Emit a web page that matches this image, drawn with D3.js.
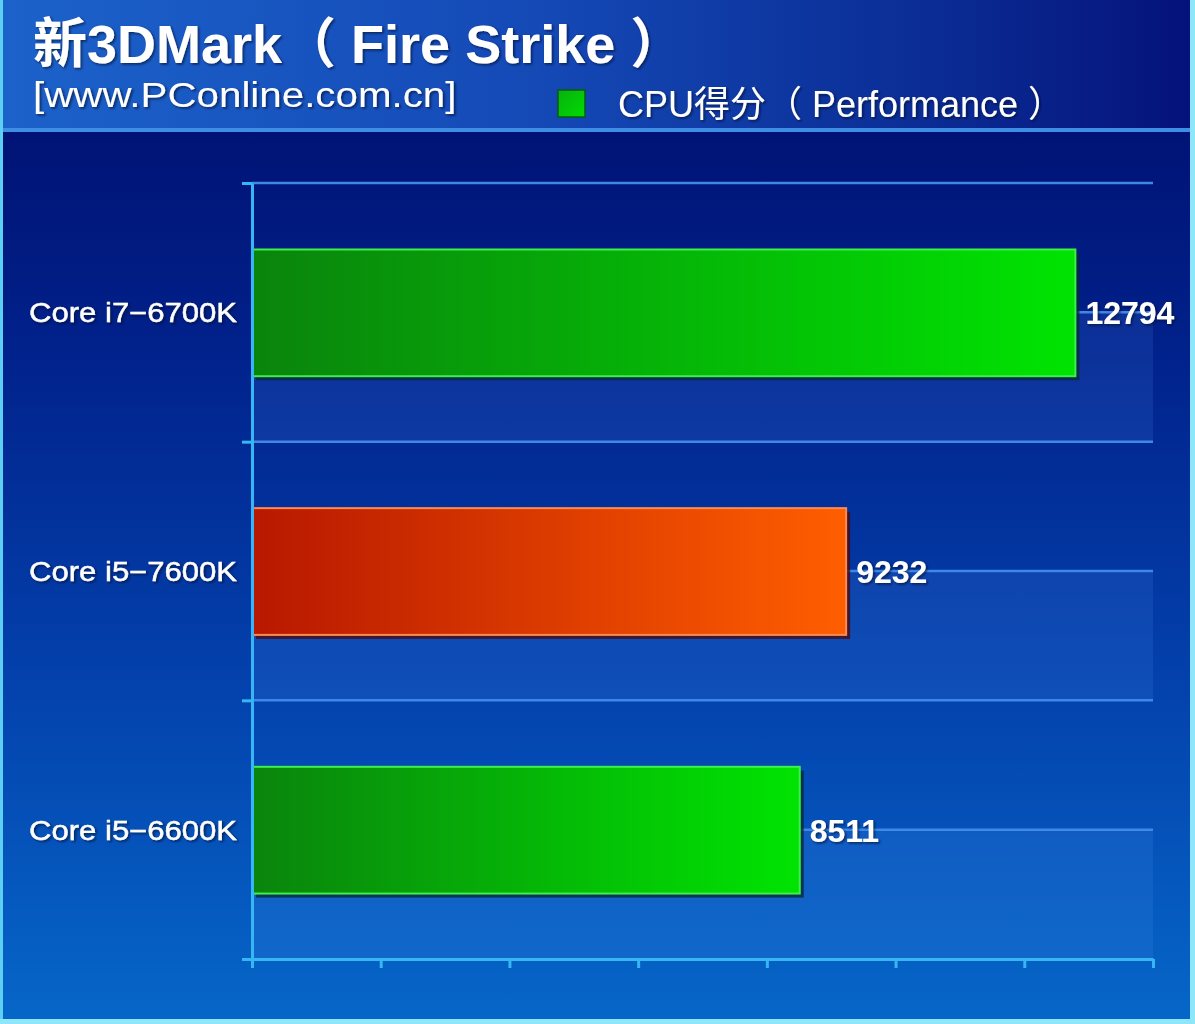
<!DOCTYPE html>
<html>
<head>
<meta charset="utf-8">
<script src="https://cdn.jsdelivr.net/npm/d3@7"></script>
<style>
  html, body { margin: 0; padding: 0; background: #000a6a; }
  svg { display: block; }
  text { font-family: "Liberation Sans", Arial, "Noto Sans CJK SC", sans-serif; fill: #fff; }
</style>
</head>
<body>
<div id="chart"></div>
<script>
// chart data
const categories = ["Core i7-6700K", "Core i5-7600K", "Core i5-6600K"];
const scores = [12794, 9232, 8511];
const xTicks = [0, 2000, 4000, 6000, 8000, 10000, 12000, 14000];
const highlighted = ["Core i5-7600K"];   // the bar drawn in orange
const titleText = "新3DMark（ Fire Strike ）";
const siteText = "[www.PConline.com.cn]";
const legendText = "CPU得分（ Performance ）";

const w = 1195;
const h = 1024;

const svg = d3.select("#chart")
              .append("svg")
              .attr("width", w)
              .attr("height", h);

const defs = svg.append("defs");

// gradients
function linGrad(id, stops, x2, y2) {
    const g = defs.append("linearGradient")
                  .attr("id", id)
                  .attr("x1", "0").attr("y1", "0")
                  .attr("x2", x2).attr("y2", y2);
    stops.forEach(s => g.append("stop").attr("offset", s[0]).attr("stop-color", s[1]));
}
linGrad("bg", [["0%", "#000a68"], ["35%", "#01228c"], ["70%", "#0445b0"], ["100%", "#0667c8"]], "0", "1");
linGrad("head", [["0%", "#1c62ca"], ["45%", "#1449b6"], ["80%", "#0a2a92"], ["100%", "#04127a"]], "1", "0");
linGrad("green", [["0%", "#0a840c"], ["100%", "#00e402"]], "1", "0");
linGrad("orange", [["0%", "#b81800"], ["100%", "#ff5e00"]], "1", "0");
linGrad("legendSq", [["0%", "#08b010"], ["100%", "#00dc00"]], "1", "1");

// soft dark shadow behind texts
const f = defs.append("filter").attr("id", "tshadow").attr("x", "-5%").attr("y", "-20%").attr("width", "110%").attr("height", "140%");
f.append("feDropShadow").attr("dx", 1.5).attr("dy", 1.5).attr("stdDeviation", 1).attr("flood-color", "#000830").attr("flood-opacity", 0.7);

// background + header
svg.append("rect").attr("width", w).attr("height", h).attr("fill", "url(#bg)");
svg.append("rect").attr("width", w).attr("height", 129).attr("fill", "url(#head)");
svg.append("rect").attr("y", 128).attr("width", w).attr("height", 4).attr("fill", "#3d8ee4");

// outer frame
svg.append("rect").attr("x", 0).attr("y", 0).attr("width", 3).attr("height", h).attr("fill", "#5ccff2");
svg.append("rect").attr("x", w - 5).attr("y", 0).attr("width", 5).attr("height", h).attr("fill", "#8fe6fa");
svg.append("rect").attr("x", 0).attr("y", h - 5).attr("width", w).attr("height", 5).attr("fill", "#8fe6fa");

// scales
const xScale = d3.scaleLinear()
                 .domain([0, 14000])
                 .range([252, 1153]);

const yScale = d3.scaleBand()
                 .domain(categories)
                 .range([183, 959]);

// boundary scale for grid and left ticks
const gScale = d3.scaleLinear()
                 .domain([0, categories.length])
                 .range([959, 183]);

const bw = yScale.bandwidth();

// lighter lower half of each band
svg.append("g")
   .selectAll("rect")
   .data(categories)
   .enter()
   .append("rect")
   .attr("x", xScale(0))
   .attr("y", d => yScale(d) + bw / 2)
   .attr("width", xScale(14000) - xScale(0))
   .attr("height", bw / 2)
   .attr("fill", "#5aa0ff")
   .attr("opacity", 0.13);

// gridlines at band edges and band middles
const gridVals = d3.range(1, categories.length * 2 + 1).map(v => v / 2);
svg.append("g")
   .selectAll("line")
   .data(gridVals)
   .enter()
   .append("line")
   .attr("x1", xScale(0))
   .attr("x2", xScale(14000))
   .attr("y1", d => gScale(d))
   .attr("y2", d => gScale(d))
   .attr("stroke", "#3f88e8")
   .attr("stroke-width", 2.5);

// bars: shadow then face
const barH = bw * 0.49;
const barY = d => yScale(d) + bw * 0.257;

svg.append("g")
   .selectAll("rect")
   .data(categories)
   .enter()
   .append("rect")
   .attr("x", xScale(0) + 4)
   .attr("y", d => barY(d) + 4)
   .attr("width", (d, i) => xScale(scores[i]) - xScale(0))
   .attr("height", barH)
   .attr("fill", d => highlighted.includes(d) ? "#4a0a10" : "#062a3a")
   .attr("opacity", 0.8);

svg.append("g")
   .selectAll("rect")
   .data(categories)
   .enter()
   .append("rect")
   .attr("x", xScale(0) + 1)
   .attr("y", d => barY(d))
   .attr("width", (d, i) => xScale(scores[i]) - xScale(0) - 1)
   .attr("height", barH)
   .attr("fill", d => highlighted.includes(d) ? "url(#orange)" : "url(#green)")
   .attr("stroke", d => highlighted.includes(d) ? "#ff8a50" : "#3ef04a")
   .attr("stroke-width", 2);

// value labels
svg.append("g")
   .selectAll("text")
   .data(categories)
   .enter()
   .append("text")
   .attr("x", (d, i) => xScale(scores[i]) + 10)
   .attr("y", d => yScale(d) + bw / 2 + 12)
   .attr("font-size", 32)
   .attr("font-weight", "bold")
   .attr("filter", "url(#tshadow)")
   .text((d, i) => scores[i]);

// category labels
svg.append("g")
   .selectAll("text")
   .data(categories)
   .enter()
   .append("text")
   .attr("transform", d => "translate(237," + (yScale(d) + bw / 2 + 10) + ") scale(1.15,1)")
   .attr("text-anchor", "end")
   .attr("font-size", 27)
   .attr("stroke", "#fff")
   .attr("stroke-width", 0.4)
   .attr("filter", "url(#tshadow)")
   .text(d => d.replace("-", "\u2212"));

// x-axis (ticks only, no labels)
const xAxis = d3.axisBottom(xScale)
                .tickValues(xTicks)
                .tickFormat("")
                .tickSizeInner(9)
                .tickSizeOuter(0);

svg.append("g")
   .attr("id", "x-axis")
   .attr("transform", "translate(0,959)")
   .call(xAxis);

// y-axis with ticks at band edges
const yAxis = d3.axisLeft(gScale)
                .tickValues(d3.range(0, categories.length + 1))
                .tickFormat("")
                .tickSizeInner(10)
                .tickSizeOuter(0);

svg.append("g")
   .attr("id", "y-axis")
   .attr("transform", "translate(252,0)")
   .call(yAxis);

svg.selectAll("#x-axis path, #x-axis line, #y-axis path, #y-axis line")
   .attr("stroke", "#36b6f2")
   .attr("stroke-width", 3);

// header texts
svg.append("text")
   .attr("x", 33)
   .attr("y", 63)
   .attr("font-size", 54)
   .attr("font-weight", "bold")
   .attr("filter", "url(#tshadow)")
   .text(titleText);

svg.append("text")
   .attr("transform", "translate(33,107) scale(1.12,1)")
   .attr("font-size", 36)
   .attr("filter", "url(#tshadow)")
   .text(siteText);

// legend
svg.append("rect")
   .attr("x", 558)
   .attr("y", 90)
   .attr("width", 27)
   .attr("height", 27)
   .attr("fill", "url(#legendSq)")
   .attr("stroke", "#0a5a14")
   .attr("stroke-width", 1.5);

svg.append("text")
   .attr("x", 618)
   .attr("y", 117)
   .attr("font-size", 36)
   .attr("filter", "url(#tshadow)")
   .text(legendText);
</script>
</body>
</html>
